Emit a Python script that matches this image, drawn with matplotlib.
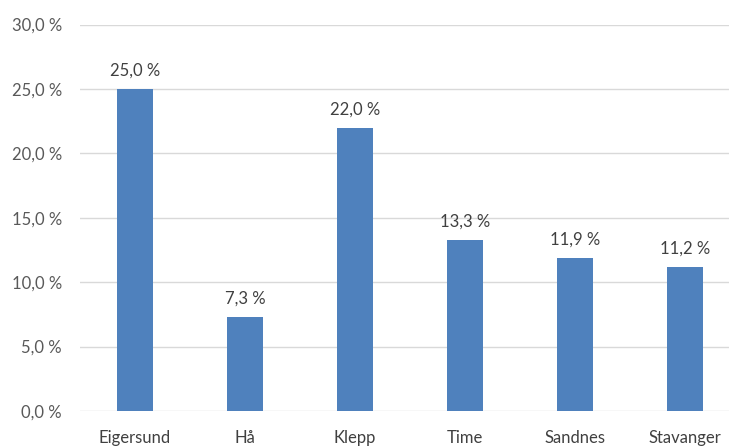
import matplotlib
matplotlib.use("Agg")
import matplotlib.pyplot as plt
from matplotlib.ticker import FuncFormatter

categories = ["Eigersund", "Hå", "Klepp", "Time", "Sandnes", "Stavanger"]
values = [25.0, 7.3, 22.0, 13.3, 11.9, 11.2]
yticks = [0, 5, 10, 15, 20, 25, 30]

plt.rcParams['font.family'] = ['Lato', 'DejaVu Sans']
W, H = 729, 446
fig = plt.figure(figsize=(W/100, H/100), dpi=100)
left, right, top, bottom = 80, 740, 24.6, 411
ax = fig.add_axes([left/W, 1-bottom/H, (right-left)/W, (bottom-top)/H])

text_color = "#595959"
x = list(range(len(categories)))
bars = ax.bar(x, values, width=0.32, color="#4F81BD", zorder=3)
for xi, v in zip(x, values):
    ax.annotate(f"{v:.1f} %".replace(".", ","), (xi, v), xytext=(0, 7.5),
                textcoords="offset points", ha="center", va="bottom",
                fontsize=12, color="#404040")

ax.set_xlim(-0.5, len(categories)-0.5)
ax.set_ylim(0, 30)
ax.set_yticks(yticks)
ax.yaxis.set_major_formatter(FuncFormatter(lambda v, p: f"{v:.1f} %".replace(".", ",")))
ax.set_xticks(x)
ax.set_xticklabels(categories)
ax.tick_params(axis='y', length=0, pad=13, labelsize=12, labelcolor=text_color)
ax.tick_params(axis='x', length=0, pad=13.5, labelsize=12, labelcolor="#404040")
ax.grid(axis='y', color="#D9D9D9", linewidth=1, zorder=0)
for s in ax.spines.values():
    s.set_visible(False)

fig.savefig("out.png", dpi=100)
